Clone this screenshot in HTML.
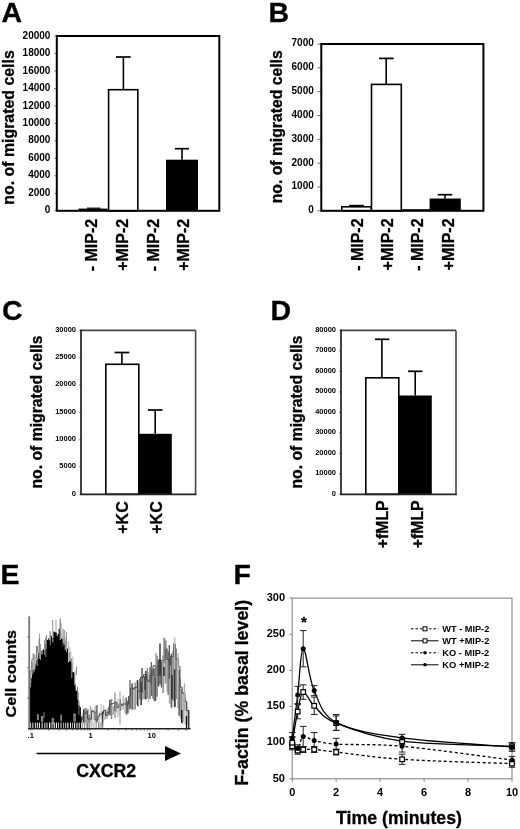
<!DOCTYPE html>
<html><head><meta charset="utf-8"><style>
html,body{margin:0;padding:0;background:#fff;}
body{width:520px;height:829px;overflow:hidden;}
svg{display:block;filter:grayscale(100%) blur(0.3px);}
text{font-family:"Liberation Sans",sans-serif;}
</style></head><body>
<svg width="520" height="829" viewBox="0 0 520 829">
<rect width="520" height="829" fill="#fff"/>
<text x="1.5" y="22" font-size="28.5" font-weight="bold" text-anchor="start" fill="#000"  stroke="#000" stroke-width="0.3">A</text>
<line x1="54.3" y1="36.0" x2="56.8" y2="36.0" stroke="#777" stroke-width="1.0" />
<text x="50.4" y="38.6" font-size="10" font-weight="bold" text-anchor="end" fill="#000" >20000</text>
<line x1="54.3" y1="53.480000000000004" x2="56.8" y2="53.480000000000004" stroke="#777" stroke-width="1.0" />
<text x="50.4" y="56.080000000000005" font-size="10" font-weight="bold" text-anchor="end" fill="#000" >18000</text>
<line x1="54.3" y1="70.96000000000001" x2="56.8" y2="70.96000000000001" stroke="#777" stroke-width="1.0" />
<text x="50.4" y="73.56" font-size="10" font-weight="bold" text-anchor="end" fill="#000" >16000</text>
<line x1="54.3" y1="88.44" x2="56.8" y2="88.44" stroke="#777" stroke-width="1.0" />
<text x="50.4" y="91.03999999999999" font-size="10" font-weight="bold" text-anchor="end" fill="#000" >14000</text>
<line x1="54.3" y1="105.92" x2="56.8" y2="105.92" stroke="#777" stroke-width="1.0" />
<text x="50.4" y="108.52" font-size="10" font-weight="bold" text-anchor="end" fill="#000" >12000</text>
<line x1="54.3" y1="123.4" x2="56.8" y2="123.4" stroke="#777" stroke-width="1.0" />
<text x="50.4" y="126.0" font-size="10" font-weight="bold" text-anchor="end" fill="#000" >10000</text>
<line x1="54.3" y1="140.88" x2="56.8" y2="140.88" stroke="#777" stroke-width="1.0" />
<text x="50.4" y="143.48" font-size="10" font-weight="bold" text-anchor="end" fill="#000" >8000</text>
<line x1="54.3" y1="158.36" x2="56.8" y2="158.36" stroke="#777" stroke-width="1.0" />
<text x="50.4" y="160.96" font-size="10" font-weight="bold" text-anchor="end" fill="#000" >6000</text>
<line x1="54.3" y1="175.84" x2="56.8" y2="175.84" stroke="#777" stroke-width="1.0" />
<text x="50.4" y="178.44" font-size="10" font-weight="bold" text-anchor="end" fill="#000" >4000</text>
<line x1="54.3" y1="193.32" x2="56.8" y2="193.32" stroke="#777" stroke-width="1.0" />
<text x="50.4" y="195.92" font-size="10" font-weight="bold" text-anchor="end" fill="#000" >2000</text>
<line x1="54.3" y1="210.8" x2="56.8" y2="210.8" stroke="#777" stroke-width="1.0" />
<text x="50.4" y="213.4" font-size="10" font-weight="bold" text-anchor="end" fill="#000" >0</text>
<rect x="78.5" y="208.6" width="29" height="2.3" fill="#000" stroke="none" stroke-width="0"/>
<line x1="87" y1="208.2" x2="100.5" y2="208.2" stroke="#000" stroke-width="1.2" />
<rect x="108.6" y="89.7" width="29.2" height="121.10000000000001" fill="#fff" stroke="#000" stroke-width="1.6"/>
<line x1="123.4" y1="57" x2="123.4" y2="89.7" stroke="#000" stroke-width="1.6" />
<line x1="116" y1="57" x2="130.7" y2="57" stroke="#000" stroke-width="1.7" />
<rect x="166" y="159.7" width="32" height="51.10000000000002" fill="#000" stroke="none" stroke-width="0"/>
<line x1="182" y1="148.7" x2="182" y2="159.7" stroke="#000" stroke-width="1.6" />
<line x1="174.9" y1="148.7" x2="189" y2="148.7" stroke="#000" stroke-width="1.7" />
<rect x="56.8" y="36.0" width="162.5" height="174.8" fill="none" stroke="#000" stroke-width="2"/>
<text transform="translate(14.2,127.5) rotate(-90)" font-size="15.8" font-weight="bold" text-anchor="middle" fill="#000" textLength="154.5" lengthAdjust="spacingAndGlyphs"  stroke="#000" stroke-width="0.3">no. of migrated cells</text>
<text transform="translate(97.10000000000001,218.8) rotate(-90)" font-size="16" font-weight="bold" text-anchor="end" fill="#000"  stroke="#000" stroke-width="0.3">- MIP-2</text>
<text transform="translate(127.8,218.8) rotate(-90)" font-size="16" font-weight="bold" text-anchor="end" fill="#000"  stroke="#000" stroke-width="0.3">+MIP-2</text>
<text transform="translate(158.6,218.8) rotate(-90)" font-size="16" font-weight="bold" text-anchor="end" fill="#000"  stroke="#000" stroke-width="0.3">- MIP-2</text>
<text transform="translate(189.2,218.8) rotate(-90)" font-size="16" font-weight="bold" text-anchor="end" fill="#000"  stroke="#000" stroke-width="0.3">+MIP-2</text>
<text x="268.5" y="22" font-size="28.5" font-weight="bold" text-anchor="start" fill="#000"  stroke="#000" stroke-width="0.3">B</text>
<line x1="317.3" y1="44.0" x2="321.3" y2="44.0" stroke="#777" stroke-width="1.0" />
<text x="313.8" y="46.4" font-size="10" font-weight="bold" text-anchor="end" fill="#000" >7000</text>
<line x1="317.3" y1="67.82857142857142" x2="321.3" y2="67.82857142857142" stroke="#777" stroke-width="1.0" />
<text x="313.8" y="70.22857142857143" font-size="10" font-weight="bold" text-anchor="end" fill="#000" >6000</text>
<line x1="317.3" y1="91.65714285714286" x2="321.3" y2="91.65714285714286" stroke="#777" stroke-width="1.0" />
<text x="313.8" y="94.05714285714286" font-size="10" font-weight="bold" text-anchor="end" fill="#000" >5000</text>
<line x1="317.3" y1="115.4857142857143" x2="321.3" y2="115.4857142857143" stroke="#777" stroke-width="1.0" />
<text x="313.8" y="117.8857142857143" font-size="10" font-weight="bold" text-anchor="end" fill="#000" >4000</text>
<line x1="317.3" y1="139.31428571428572" x2="321.3" y2="139.31428571428572" stroke="#777" stroke-width="1.0" />
<text x="313.8" y="141.71428571428572" font-size="10" font-weight="bold" text-anchor="end" fill="#000" >3000</text>
<line x1="317.3" y1="163.14285714285714" x2="321.3" y2="163.14285714285714" stroke="#777" stroke-width="1.0" />
<text x="313.8" y="165.54285714285714" font-size="10" font-weight="bold" text-anchor="end" fill="#000" >2000</text>
<line x1="317.3" y1="186.9714285714286" x2="321.3" y2="186.9714285714286" stroke="#777" stroke-width="1.0" />
<text x="313.8" y="189.3714285714286" font-size="10" font-weight="bold" text-anchor="end" fill="#000" >1000</text>
<line x1="317.3" y1="210.8" x2="321.3" y2="210.8" stroke="#777" stroke-width="1.0" />
<text x="313.8" y="213.20000000000002" font-size="10" font-weight="bold" text-anchor="end" fill="#000" >0</text>
<rect x="341.8" y="206.8" width="29.5" height="4.0" fill="#fff" stroke="#000" stroke-width="1.6"/>
<line x1="349.1" y1="205.8" x2="363.9" y2="205.8" stroke="#000" stroke-width="2.0" />
<rect x="371.5" y="84.4" width="29.8" height="126.4" fill="#fff" stroke="#000" stroke-width="1.6"/>
<line x1="386.2" y1="58.4" x2="386.2" y2="84.4" stroke="#000" stroke-width="1.6" />
<line x1="379" y1="58.4" x2="393.7" y2="58.4" stroke="#000" stroke-width="1.7" />
<rect x="401.5" y="209.2" width="28.5" height="1.8" fill="#000" stroke="none" stroke-width="0"/>
<rect x="429.6" y="198.5" width="31.2" height="12.300000000000011" fill="#000" stroke="none" stroke-width="0"/>
<line x1="445" y1="194.7" x2="445" y2="198.5" stroke="#000" stroke-width="1.6" />
<line x1="437.7" y1="194.7" x2="452.2" y2="194.7" stroke="#000" stroke-width="1.7" />
<rect x="321.3" y="44.0" width="162.09999999999997" height="166.8" fill="none" stroke="#000" stroke-width="2"/>
<text transform="translate(281.5,126.8) rotate(-90)" font-size="15.8" font-weight="bold" text-anchor="middle" fill="#000" textLength="153" lengthAdjust="spacingAndGlyphs"  stroke="#000" stroke-width="0.3">no. of migrated cells</text>
<text transform="translate(363.0,218.4) rotate(-90)" font-size="16" font-weight="bold" text-anchor="end" fill="#000"  stroke="#000" stroke-width="0.3">- MIP-2</text>
<text transform="translate(393.4,218.4) rotate(-90)" font-size="16" font-weight="bold" text-anchor="end" fill="#000"  stroke="#000" stroke-width="0.3">+MIP-2</text>
<text transform="translate(423.0,218.4) rotate(-90)" font-size="16" font-weight="bold" text-anchor="end" fill="#000"  stroke="#000" stroke-width="0.3">- MIP-2</text>
<text transform="translate(453.5,218.4) rotate(-90)" font-size="16" font-weight="bold" text-anchor="end" fill="#000"  stroke="#000" stroke-width="0.3">+MIP-2</text>
<text x="2.0" y="320" font-size="28.5" font-weight="bold" text-anchor="start" fill="#000"  stroke="#000" stroke-width="0.3">C</text>
<line x1="79.5" y1="330.4" x2="81.0" y2="330.4" stroke="#333" stroke-width="1.0" />
<text x="76.0" y="331.79999999999995" font-size="7.5" font-weight="bold" text-anchor="end" fill="#000" >30000</text>
<line x1="79.5" y1="357.71666666666664" x2="81.0" y2="357.71666666666664" stroke="#333" stroke-width="1.0" />
<text x="76.0" y="359.1166666666666" font-size="7.5" font-weight="bold" text-anchor="end" fill="#000" >25000</text>
<line x1="79.5" y1="385.0333333333333" x2="81.0" y2="385.0333333333333" stroke="#333" stroke-width="1.0" />
<text x="76.0" y="386.4333333333333" font-size="7.5" font-weight="bold" text-anchor="end" fill="#000" >20000</text>
<line x1="79.5" y1="412.35" x2="81.0" y2="412.35" stroke="#333" stroke-width="1.0" />
<text x="76.0" y="413.75" font-size="7.5" font-weight="bold" text-anchor="end" fill="#000" >15000</text>
<line x1="79.5" y1="439.6666666666667" x2="81.0" y2="439.6666666666667" stroke="#333" stroke-width="1.0" />
<text x="76.0" y="441.06666666666666" font-size="7.5" font-weight="bold" text-anchor="end" fill="#000" >10000</text>
<line x1="79.5" y1="466.98333333333335" x2="81.0" y2="466.98333333333335" stroke="#333" stroke-width="1.0" />
<text x="76.0" y="468.3833333333333" font-size="7.5" font-weight="bold" text-anchor="end" fill="#000" >5000</text>
<line x1="79.5" y1="494.3" x2="81.0" y2="494.3" stroke="#333" stroke-width="1.0" />
<text x="76.0" y="495.7" font-size="7.5" font-weight="bold" text-anchor="end" fill="#000" >0</text>
<rect x="105.8" y="364.3" width="33" height="130.0" fill="#fff" stroke="#000" stroke-width="1.6"/>
<line x1="121.9" y1="352.5" x2="121.9" y2="364.3" stroke="#000" stroke-width="1.6" />
<line x1="114.5" y1="352.5" x2="129.3" y2="352.5" stroke="#000" stroke-width="1.7" />
<rect x="138.8" y="433.8" width="33" height="60.5" fill="#000" stroke="none" stroke-width="0"/>
<line x1="155.2" y1="410" x2="155.2" y2="433.8" stroke="#000" stroke-width="1.6" />
<line x1="148" y1="410" x2="162.5" y2="410" stroke="#000" stroke-width="1.7" />
<line x1="81.0" y1="330.4" x2="195.6" y2="330.4" stroke="#444" stroke-width="1.6" />
<line x1="195.6" y1="330.4" x2="195.6" y2="494.3" stroke="#444" stroke-width="1.6" />
<line x1="81.0" y1="329.59999999999997" x2="81.0" y2="495.1" stroke="#222" stroke-width="1.7" />
<line x1="80.2" y1="494.3" x2="196.4" y2="494.3" stroke="#222" stroke-width="1.7" />
<text transform="translate(42.3,412) rotate(-90)" font-size="15.8" font-weight="bold" text-anchor="middle" fill="#000" textLength="153" lengthAdjust="spacingAndGlyphs"  stroke="#000" stroke-width="0.3">no. of migrated cells</text>
<text transform="translate(127.8,501.3) rotate(-90)" font-size="16" font-weight="bold" text-anchor="end" fill="#000"  stroke="#000" stroke-width="0.3">+KC</text>
<text transform="translate(162.4,501.3) rotate(-90)" font-size="16" font-weight="bold" text-anchor="end" fill="#000"  stroke="#000" stroke-width="0.3">+KC</text>
<text x="270.5" y="320" font-size="28.5" font-weight="bold" text-anchor="start" fill="#000"  stroke="#000" stroke-width="0.3">D</text>
<line x1="339.5" y1="330.4" x2="341.0" y2="330.4" stroke="#333" stroke-width="1.0" />
<text x="336.0" y="331.79999999999995" font-size="7.5" font-weight="bold" text-anchor="end" fill="#000" >80000</text>
<line x1="339.5" y1="350.8875" x2="341.0" y2="350.8875" stroke="#333" stroke-width="1.0" />
<text x="336.0" y="352.28749999999997" font-size="7.5" font-weight="bold" text-anchor="end" fill="#000" >70000</text>
<line x1="339.5" y1="371.375" x2="341.0" y2="371.375" stroke="#333" stroke-width="1.0" />
<text x="336.0" y="372.775" font-size="7.5" font-weight="bold" text-anchor="end" fill="#000" >60000</text>
<line x1="339.5" y1="391.8625" x2="341.0" y2="391.8625" stroke="#333" stroke-width="1.0" />
<text x="336.0" y="393.2625" font-size="7.5" font-weight="bold" text-anchor="end" fill="#000" >50000</text>
<line x1="339.5" y1="412.35" x2="341.0" y2="412.35" stroke="#333" stroke-width="1.0" />
<text x="336.0" y="413.75" font-size="7.5" font-weight="bold" text-anchor="end" fill="#000" >40000</text>
<line x1="339.5" y1="432.8375" x2="341.0" y2="432.8375" stroke="#333" stroke-width="1.0" />
<text x="336.0" y="434.23749999999995" font-size="7.5" font-weight="bold" text-anchor="end" fill="#000" >30000</text>
<line x1="339.5" y1="453.325" x2="341.0" y2="453.325" stroke="#333" stroke-width="1.0" />
<text x="336.0" y="454.72499999999997" font-size="7.5" font-weight="bold" text-anchor="end" fill="#000" >20000</text>
<line x1="339.5" y1="473.8125" x2="341.0" y2="473.8125" stroke="#333" stroke-width="1.0" />
<text x="336.0" y="475.2125" font-size="7.5" font-weight="bold" text-anchor="end" fill="#000" >10000</text>
<line x1="339.5" y1="494.3" x2="341.0" y2="494.3" stroke="#333" stroke-width="1.0" />
<text x="336.0" y="495.7" font-size="7.5" font-weight="bold" text-anchor="end" fill="#000" >0</text>
<rect x="365.8" y="377.8" width="33" height="116.5" fill="#fff" stroke="#000" stroke-width="1.6"/>
<line x1="381.9" y1="339.3" x2="381.9" y2="377.8" stroke="#000" stroke-width="1.6" />
<line x1="375" y1="339.3" x2="389.3" y2="339.3" stroke="#000" stroke-width="1.7" />
<rect x="398.8" y="395.5" width="33" height="98.80000000000001" fill="#000" stroke="none" stroke-width="0"/>
<line x1="415.2" y1="371.3" x2="415.2" y2="395.5" stroke="#000" stroke-width="1.6" />
<line x1="408" y1="371.3" x2="422.5" y2="371.3" stroke="#000" stroke-width="1.7" />
<line x1="341.0" y1="330.4" x2="456.0" y2="330.4" stroke="#444" stroke-width="1.6" />
<line x1="456.0" y1="330.4" x2="456.0" y2="494.3" stroke="#444" stroke-width="1.6" />
<line x1="341.0" y1="329.59999999999997" x2="341.0" y2="495.1" stroke="#222" stroke-width="1.7" />
<line x1="340.2" y1="494.3" x2="456.8" y2="494.3" stroke="#222" stroke-width="1.7" />
<text transform="translate(301.8,412) rotate(-90)" font-size="15.8" font-weight="bold" text-anchor="middle" fill="#000" textLength="153" lengthAdjust="spacingAndGlyphs"  stroke="#000" stroke-width="0.3">no. of migrated cells</text>
<text transform="translate(387.8,500.4) rotate(-90)" font-size="15.8" font-weight="bold" text-anchor="end" fill="#000"  stroke="#000" stroke-width="0.3">+fMLP</text>
<text transform="translate(423.0,500.4) rotate(-90)" font-size="15.8" font-weight="bold" text-anchor="end" fill="#000"  stroke="#000" stroke-width="0.3">+fMLP</text>
<text x="0.5" y="583.6" font-size="28.5" font-weight="bold" text-anchor="start" fill="#000"  stroke="#000" stroke-width="0.3">E</text>
<text transform="translate(16.3,673.7) rotate(-90)" font-size="14.8" font-weight="bold" text-anchor="middle" fill="#000" textLength="87.5" lengthAdjust="spacingAndGlyphs"  stroke="#000" stroke-width="0.3">Cell counts</text>
<rect x="80.5" y="716.38" width="1.5" height="12.42" fill="#333" stroke="none" stroke-width="0"/>
<rect x="82.0" y="716.36" width="1.0" height="8.63" fill="#bbb" stroke="none" stroke-width="0"/>
<rect x="83.0" y="709.22" width="1.2" height="15.5" fill="#333" stroke="none" stroke-width="0"/>
<rect x="84.2" y="708.56" width="1.0" height="16.18" fill="#666" stroke="none" stroke-width="0"/>
<rect x="85.2" y="707.73" width="1.2" height="18.42" fill="#888" stroke="none" stroke-width="0"/>
<rect x="86.4" y="708.6" width="1.0" height="20.2" fill="#888" stroke="none" stroke-width="0"/>
<rect x="87.4" y="709.12" width="1.2" height="17.42" fill="#777" stroke="none" stroke-width="0"/>
<rect x="88.6" y="714.75" width="1.2" height="14.05" fill="#666" stroke="none" stroke-width="0"/>
<rect x="89.8" y="706.23" width="1.5" height="22.57" fill="#aaa" stroke="none" stroke-width="0"/>
<rect x="91.3" y="708.73" width="1.0" height="17.31" fill="#ccc" stroke="none" stroke-width="0"/>
<rect x="92.3" y="708.33" width="1.0" height="16.4" fill="#ccc" stroke="none" stroke-width="0"/>
<rect x="93.3" y="709.67" width="1.2" height="10.57" fill="#bbb" stroke="none" stroke-width="0"/>
<rect x="94.5" y="705.77" width="1.5" height="17.27" fill="#bbb" stroke="none" stroke-width="0"/>
<rect x="96.0" y="705.22" width="1.8" height="23.33" fill="#777" stroke="none" stroke-width="0"/>
<rect x="97.8" y="711.24" width="1.0" height="16.73" fill="#ccc" stroke="none" stroke-width="0"/>
<rect x="98.8" y="712.27" width="1.5" height="10.65" fill="#ccc" stroke="none" stroke-width="0"/>
<rect x="100.3" y="704.21" width="1.5" height="14.52" fill="#ccc" stroke="none" stroke-width="0"/>
<rect x="101.8" y="711.54" width="1.5" height="14.62" fill="#333" stroke="none" stroke-width="0"/>
<rect x="103.3" y="705.49" width="1.0" height="12.3" fill="#999" stroke="none" stroke-width="0"/>
<rect x="104.3" y="708.77" width="1.2" height="11.49" fill="#bbb" stroke="none" stroke-width="0"/>
<rect x="105.5" y="710.48" width="1.0" height="8.43" fill="#777" stroke="none" stroke-width="0"/>
<rect x="106.5" y="708.24" width="1.5" height="10.53" fill="#bbb" stroke="none" stroke-width="0"/>
<rect x="108.0" y="706.81" width="1.0" height="9.36" fill="#888" stroke="none" stroke-width="0"/>
<rect x="109.0" y="699.76" width="1.8" height="15.53" fill="#666" stroke="none" stroke-width="0"/>
<rect x="110.8" y="699.03" width="1.5" height="19.95" fill="#888" stroke="none" stroke-width="0"/>
<rect x="112.3" y="705.95" width="1.8" height="8.66" fill="#aaa" stroke="none" stroke-width="0"/>
<rect x="114.1" y="701.0" width="1.5" height="9.93" fill="#333" stroke="none" stroke-width="0"/>
<rect x="115.6" y="702.08" width="1.2" height="10.18" fill="#999" stroke="none" stroke-width="0"/>
<rect x="116.8" y="698.77" width="1.8" height="18.54" fill="#ccc" stroke="none" stroke-width="0"/>
<rect x="118.6" y="703.21" width="1.0" height="12.01" fill="#bbb" stroke="none" stroke-width="0"/>
<rect x="119.6" y="699.31" width="1.5" height="11.58" fill="#555" stroke="none" stroke-width="0"/>
<rect x="121.1" y="702.93" width="1.5" height="7.46" fill="#ccc" stroke="none" stroke-width="0"/>
<rect x="122.6" y="695.49" width="1.2" height="13.72" fill="#aaa" stroke="none" stroke-width="0"/>
<rect x="123.8" y="698.6" width="1.8" height="14.24" fill="#ccc" stroke="none" stroke-width="0"/>
<rect x="125.6" y="697.46" width="1.5" height="17.23" fill="#666" stroke="none" stroke-width="0"/>
<rect x="127.1" y="700.8" width="1.5" height="12.74" fill="#555" stroke="none" stroke-width="0"/>
<rect x="128.6" y="696.91" width="1.5" height="12.8" fill="#888" stroke="none" stroke-width="0"/>
<rect x="130.1" y="689.51" width="1.2" height="19.24" fill="#999" stroke="none" stroke-width="0"/>
<rect x="131.3" y="683.29" width="1.8" height="26.26" fill="#666" stroke="none" stroke-width="0"/>
<rect x="133.1" y="686.99" width="1.5" height="22.76" fill="#bbb" stroke="none" stroke-width="0"/>
<rect x="134.6" y="682.52" width="1.2" height="27.06" fill="#777" stroke="none" stroke-width="0"/>
<rect x="135.8" y="680.52" width="1.2" height="24.02" fill="#bbb" stroke="none" stroke-width="0"/>
<rect x="137.0" y="680.0" width="1.2" height="26.03" fill="#333" stroke="none" stroke-width="0"/>
<rect x="138.2" y="681.54" width="1.0" height="25.21" fill="#999" stroke="none" stroke-width="0"/>
<rect x="139.2" y="678.94" width="1.2" height="20.29" fill="#666" stroke="none" stroke-width="0"/>
<rect x="140.4" y="682.1" width="1.5" height="22.93" fill="#333" stroke="none" stroke-width="0"/>
<rect x="141.9" y="677.08" width="1.5" height="22.72" fill="#aaa" stroke="none" stroke-width="0"/>
<rect x="143.4" y="676.21" width="1.5" height="22.75" fill="#888" stroke="none" stroke-width="0"/>
<rect x="144.9" y="670.96" width="1.8" height="28.52" fill="#555" stroke="none" stroke-width="0"/>
<rect x="146.7" y="668.24" width="1.2" height="30.02" fill="#777" stroke="none" stroke-width="0"/>
<rect x="147.9" y="672.0" width="1.2" height="30.06" fill="#bbb" stroke="none" stroke-width="0"/>
<rect x="149.1" y="667.2" width="1.8" height="31.73" fill="#888" stroke="none" stroke-width="0"/>
<rect x="150.9" y="670.95" width="1.5" height="25.04" fill="#666" stroke="none" stroke-width="0"/>
<rect x="152.4" y="668.52" width="1.2" height="30.34" fill="#666" stroke="none" stroke-width="0"/>
<rect x="153.6" y="668.48" width="1.2" height="32.75" fill="#555" stroke="none" stroke-width="0"/>
<rect x="154.8" y="665.9" width="1.5" height="35.0" fill="#555" stroke="none" stroke-width="0"/>
<rect x="156.3" y="655.69" width="1.5" height="41.02" fill="#777" stroke="none" stroke-width="0"/>
<rect x="157.8" y="659.56" width="1.5" height="26.96" fill="#555" stroke="none" stroke-width="0"/>
<rect x="159.3" y="658.92" width="1.5" height="25.4" fill="#555" stroke="none" stroke-width="0"/>
<rect x="160.8" y="661.7" width="1.5" height="25.9" fill="#555" stroke="none" stroke-width="0"/>
<rect x="162.3" y="655.26" width="1.8" height="37.78" fill="#999" stroke="none" stroke-width="0"/>
<rect x="164.1" y="649.04" width="1.0" height="35.89" fill="#ccc" stroke="none" stroke-width="0"/>
<rect x="165.1" y="640.43" width="1.5" height="42.95" fill="#888" stroke="none" stroke-width="0"/>
<rect x="166.6" y="647.63" width="1.0" height="44.3" fill="#999" stroke="none" stroke-width="0"/>
<rect x="167.6" y="651.33" width="1.2" height="43.68" fill="#555" stroke="none" stroke-width="0"/>
<rect x="168.8" y="657.88" width="1.8" height="45.91" fill="#aaa" stroke="none" stroke-width="0"/>
<rect x="170.6" y="653.59" width="1.8" height="54.16" fill="#666" stroke="none" stroke-width="0"/>
<rect x="172.4" y="651.04" width="1.5" height="49.94" fill="#888" stroke="none" stroke-width="0"/>
<rect x="173.9" y="644.71" width="1.8" height="62.39" fill="#333" stroke="none" stroke-width="0"/>
<rect x="175.7" y="648.63" width="1.2" height="50.49" fill="#777" stroke="none" stroke-width="0"/>
<rect x="176.9" y="656.98" width="1.5" height="51.09" fill="#bbb" stroke="none" stroke-width="0"/>
<rect x="178.4" y="669.57" width="1.5" height="46.15" fill="#555" stroke="none" stroke-width="0"/>
<rect x="179.9" y="678.18" width="1.0" height="40.2" fill="#999" stroke="none" stroke-width="0"/>
<rect x="180.9" y="689.2" width="1.2" height="31.75" fill="#888" stroke="none" stroke-width="0"/>
<rect x="182.1" y="686.98" width="1.2" height="37.35" fill="#bbb" stroke="none" stroke-width="0"/>
<rect x="183.3" y="692.19" width="1.0" height="29.91" fill="#999" stroke="none" stroke-width="0"/>
<rect x="184.3" y="697.31" width="1.8" height="27.22" fill="#ccc" stroke="none" stroke-width="0"/>
<rect x="186.1" y="702.21" width="1.8" height="23.01" fill="#bbb" stroke="none" stroke-width="0"/>
<rect x="187.9" y="710.08" width="1.2" height="18.72" fill="#333" stroke="none" stroke-width="0"/>
<path d="M81,728.8V719.1H83.0V713.6H86.0V711.4H87.5V718.9H90.0V719.1H91.5V710.9H93.0V711.9H95.0V720.0H98.0V716.3H99.5V714.2H101.0V713.9H103.5V710.5H105.5V715.5H107.0V712.2H109.5V704.0H112.5V703.6H114.5V702.6H117.0V707.6H119.0V704.1H121.5V705.4H123.0V703.9H125.5V704.3H128.5V696.3H130.5V688.2H133.0V689.0H134.5V687.3H137.5V691.1H140.5V677.2H143.5V674.6H146.5V679.8H148.0V681.5H150.0V675.2H153.0V665.7H156.0V675.5H158.0V661.4H161.0V660.6H163.5V659.7H165.5V649.2H167.0V659.5H169.0V665.2H170.5V656.5H173.5V644.0H175.5V658.9H178.5V666.6H180.0V687.0H182.0V693.2H185.0V701.3H186.5V710.7H189.0V721.4V728.8" fill="none" stroke="#444" stroke-width="0.9"/>
<line x1="115" y1="692.5" x2="115" y2="717.9828386524697" stroke="#888" stroke-width="1.2" />
<line x1="120" y1="691.5" x2="120" y2="724.8036512036524" stroke="#aaa" stroke-width="1.2" />
<line x1="130" y1="680" x2="130" y2="708.5986036617348" stroke="#555" stroke-width="1.2" />
<line x1="142" y1="668" x2="142" y2="692.647087478332" stroke="#333" stroke-width="1.2" />
<line x1="151.3" y1="662" x2="151.3" y2="684.7582336263366" stroke="#555" stroke-width="1.2" />
<line x1="156" y1="653" x2="156" y2="677.8275875378421" stroke="#999" stroke-width="1.3" />
<line x1="160" y1="643.6" x2="160" y2="675.5912951663654" stroke="#222" stroke-width="1.3" />
<line x1="164.3" y1="637.6" x2="164.3" y2="663.0013067052063" stroke="#888" stroke-width="2.0" />
<line x1="169.3" y1="645" x2="169.3" y2="678.7012357235355" stroke="#555" stroke-width="1.3" />
<line x1="174.6" y1="637.6" x2="174.6" y2="669.2963459164877" stroke="#bbb" stroke-width="1.6" />
<line x1="177.9" y1="653" x2="177.9" y2="685.3620315824045" stroke="#bbb" stroke-width="1.4" />
<line x1="184.5" y1="683.4" x2="184.5" y2="710.8400587144571" stroke="#aaa" stroke-width="1.3" />
<line x1="181.8" y1="710" x2="181.8" y2="723" stroke="#111" stroke-width="1.4" />
<line x1="186.5" y1="716" x2="186.5" y2="728.6" stroke="#111" stroke-width="1.3" />
<line x1="172" y1="675" x2="172" y2="699" stroke="#222" stroke-width="1.4" />
<line x1="164" y1="667" x2="164" y2="676" stroke="#111" stroke-width="1.3" />
<line x1="145" y1="676" x2="145" y2="690" stroke="#333" stroke-width="1.2" />
<path d="M29.8,728.8V675.6H30.6V678.0H31.9V670.5H33.2V669.5H34.0V669.4H35.3V663.8H36.1V660.1H37.1V658.5H38.1V652.8H39.4V649.7H40.7V650.6H41.5V654.2H42.5V650.0H43.3V649.3H44.1V650.2H45.4V644.1H46.2V639.8H47.5V640.1H48.3V638.2H49.6V640.1H50.6V635.8H51.9V638.0H53.2V631.6H54.5V632.2H55.5V632.4H56.8V636.0H57.6V634.1H58.6V628.8H59.4V629.1H60.2V631.2H61.2V638.5H62.2V639.0H63.2V635.5H64.2V640.7H65.5V649.8H66.5V648.7H67.3V648.6H68.6V652.2H69.6V661.6H70.6V658.9H71.6V662.8H72.4V672.0H73.7V672.8H74.7V684.3H75.7V690.5H76.7V691.0H77.5V699.2H78.8V704.9H79.6V707.2H80.9V723.8H81.9V728.8V728.8Z" fill="#000"/>
<line x1="66.6" y1="643.2" x2="66.6" y2="649.6" stroke="#999" stroke-width="1.0" />
<line x1="63.0" y1="628.8" x2="63.0" y2="646.1" stroke="#777" stroke-width="1.0" />
<line x1="39.6" y1="633.5" x2="39.6" y2="647.0" stroke="#999" stroke-width="1.0" />
<line x1="39.2" y1="638.5" x2="39.2" y2="656.1" stroke="#777" stroke-width="1.0" />
<line x1="30.8" y1="670.3" x2="30.8" y2="682.8" stroke="#888" stroke-width="1.0" />
<line x1="32.1" y1="658.3" x2="32.1" y2="673.4" stroke="#888" stroke-width="1.0" />
<line x1="66.0" y1="640.5" x2="66.0" y2="648.0" stroke="#aaa" stroke-width="1.0" />
<line x1="33.2" y1="653.4" x2="33.2" y2="660.4" stroke="#777" stroke-width="1.0" />
<line x1="71.8" y1="658.0" x2="71.8" y2="678.0" stroke="#999" stroke-width="1.0" />
<line x1="39.4" y1="644.4" x2="39.4" y2="658.9" stroke="#888" stroke-width="1.0" />
<line x1="76.4" y1="666.5" x2="76.4" y2="675.1" stroke="#888" stroke-width="1.0" />
<line x1="72.9" y1="656.4" x2="72.9" y2="670.2" stroke="#bbb" stroke-width="1.0" />
<line x1="68.5" y1="645.3" x2="68.5" y2="651.5" stroke="#777" stroke-width="1.0" />
<line x1="64.6" y1="630.0" x2="64.6" y2="644.9" stroke="#999" stroke-width="1.0" />
<line x1="45.9" y1="638.0" x2="45.9" y2="657.1" stroke="#777" stroke-width="1.0" />
<line x1="37.1" y1="648.9" x2="37.1" y2="666.0" stroke="#aaa" stroke-width="1.0" />
<line x1="78.4" y1="691.8" x2="78.4" y2="705.6" stroke="#999" stroke-width="1.0" />
<line x1="32.9" y1="662.4" x2="32.9" y2="674.4" stroke="#888" stroke-width="1.0" />
<line x1="34.1" y1="653.8" x2="34.1" y2="672.1" stroke="#888" stroke-width="1.0" />
<line x1="74.9" y1="670.6" x2="74.9" y2="685.8" stroke="#aaa" stroke-width="1.0" />
<line x1="37.6" y1="646.1" x2="37.6" y2="652.4" stroke="#888" stroke-width="1.0" />
<line x1="65.2" y1="637.9" x2="65.2" y2="650.1" stroke="#999" stroke-width="1.0" />
<line x1="46.4" y1="635.2" x2="46.4" y2="649.1" stroke="#777" stroke-width="1.0" />
<line x1="44.6" y1="640.1" x2="44.6" y2="655.0" stroke="#888" stroke-width="1.0" />
<line x1="36.5" y1="645.9" x2="36.5" y2="658.8" stroke="#777" stroke-width="1.0" />
<line x1="77.5" y1="686.8" x2="77.5" y2="699.7" stroke="#777" stroke-width="1.0" />
<line x1="40.5" y1="644.0" x2="40.5" y2="659.9" stroke="#999" stroke-width="1.0" />
<line x1="66.5" y1="643.5" x2="66.5" y2="652.2" stroke="#999" stroke-width="1.0" />
<line x1="52.6" y1="620.2" x2="52.6" y2="628.1" stroke="#777" stroke-width="1.0" />
<line x1="52.6" y1="627.3" x2="52.6" y2="636.1" stroke="#888" stroke-width="1.0" />
<line x1="68.5" y1="641.1" x2="68.5" y2="662.6" stroke="#bbb" stroke-width="1.0" />
<line x1="30.6" y1="670.3" x2="30.6" y2="687.3" stroke="#999" stroke-width="1.0" />
<line x1="78.9" y1="701.1" x2="78.9" y2="714.9" stroke="#777" stroke-width="1.0" />
<line x1="49.9" y1="631.1" x2="49.9" y2="640.3" stroke="#bbb" stroke-width="1.0" />
<line x1="56.0" y1="619.8" x2="56.0" y2="631.7" stroke="#999" stroke-width="1.0" />
<line x1="70.8" y1="651.8" x2="70.8" y2="658.8" stroke="#aaa" stroke-width="1.0" />
<line x1="50.3" y1="631.3" x2="50.3" y2="645.1" stroke="#888" stroke-width="1.0" />
<line x1="35.1" y1="654.9" x2="35.1" y2="665.4" stroke="#999" stroke-width="1.0" />
<line x1="69.9" y1="647.2" x2="69.9" y2="660.7" stroke="#bbb" stroke-width="1.0" />
<line x1="61.3" y1="622.9" x2="61.3" y2="629.0" stroke="#bbb" stroke-width="1.0" />
<line x1="60.5" y1="623.4" x2="60.5" y2="629.7" stroke="#888" stroke-width="1.0" />
<line x1="60.7" y1="624.6" x2="60.7" y2="639.4" stroke="#aaa" stroke-width="1.0" />
<line x1="52.8" y1="621.5" x2="52.8" y2="642.4" stroke="#bbb" stroke-width="1.0" />
<line x1="63.7" y1="631.3" x2="63.7" y2="643.1" stroke="#bbb" stroke-width="1.0" />
<line x1="31.5" y1="661.0" x2="31.5" y2="671.6" stroke="#888" stroke-width="1.0" />
<line x1="60.2" y1="618.5" x2="60.2" y2="640" stroke="#888" stroke-width="1.3" />
<line x1="66.5" y1="632" x2="66.5" y2="650" stroke="#999" stroke-width="1.1" />
<rect x="36.9" y="714.1" width="1.9" height="6" fill="#888" stroke="none" stroke-width="0"/>
<rect x="51.6" y="717.8" width="1.0" height="6" fill="#888" stroke="none" stroke-width="0"/>
<rect x="43.5" y="712.2" width="1.1" height="6" fill="#777" stroke="none" stroke-width="0"/>
<rect x="73.4" y="716.1" width="2.3" height="6" fill="#888" stroke="none" stroke-width="0"/>
<rect x="60.3" y="715.4" width="1.7" height="6" fill="#666" stroke="none" stroke-width="0"/>
<rect x="73.3" y="713.4" width="2.5" height="6" fill="#888" stroke="none" stroke-width="0"/>
<rect x="52.1" y="717.8" width="2.0" height="6" fill="#777" stroke="none" stroke-width="0"/>
<rect x="41.0" y="715.9" width="2.3" height="6" fill="#888" stroke="none" stroke-width="0"/>
<rect x="60.6" y="714.3" width="1.2" height="6" fill="#888" stroke="none" stroke-width="0"/>
<rect x="73.0" y="716.1" width="2.5" height="6" fill="#666" stroke="none" stroke-width="0"/>
<rect x="30.2" y="722.6" width="0.9" height="5.6" fill="#eee" stroke="none" stroke-width="0"/>
<rect x="32.3" y="722.6" width="1.1" height="5.6" fill="#ddd" stroke="none" stroke-width="0"/>
<rect x="34.9" y="722.6" width="0.9" height="5.6" fill="#eee" stroke="none" stroke-width="0"/>
<rect x="36.8" y="722.6" width="1.3" height="5.6" fill="#ccc" stroke="none" stroke-width="0"/>
<rect x="39.1" y="722.6" width="0.9" height="5.6" fill="#fff" stroke="none" stroke-width="0"/>
<rect x="41.5" y="722.6" width="1.3" height="5.6" fill="#bbb" stroke="none" stroke-width="0"/>
<rect x="44.3" y="722.6" width="1.1" height="5.6" fill="#ccc" stroke="none" stroke-width="0"/>
<rect x="46.4" y="722.6" width="1.1" height="5.6" fill="#ccc" stroke="none" stroke-width="0"/>
<rect x="49.0" y="722.6" width="1.3" height="5.6" fill="#eee" stroke="none" stroke-width="0"/>
<rect x="51.5" y="722.6" width="1.1" height="5.6" fill="#ddd" stroke="none" stroke-width="0"/>
<rect x="53.6" y="722.6" width="1.3" height="5.6" fill="#ddd" stroke="none" stroke-width="0"/>
<rect x="55.9" y="722.6" width="1.1" height="5.6" fill="#fff" stroke="none" stroke-width="0"/>
<rect x="58.0" y="722.6" width="0.9" height="5.6" fill="#ddd" stroke="none" stroke-width="0"/>
<rect x="60.4" y="722.6" width="1.3" height="5.6" fill="#bbb" stroke="none" stroke-width="0"/>
<rect x="63.2" y="722.6" width="0.9" height="5.6" fill="#ccc" stroke="none" stroke-width="0"/>
<rect x="65.1" y="722.6" width="1.1" height="5.6" fill="#bbb" stroke="none" stroke-width="0"/>
<rect x="67.2" y="722.6" width="1.3" height="5.6" fill="#ddd" stroke="none" stroke-width="0"/>
<rect x="70.0" y="722.6" width="0.9" height="5.6" fill="#fff" stroke="none" stroke-width="0"/>
<rect x="72.1" y="722.6" width="0.9" height="5.6" fill="#bbb" stroke="none" stroke-width="0"/>
<rect x="74.0" y="722.6" width="1.1" height="5.6" fill="#eee" stroke="none" stroke-width="0"/>
<rect x="76.3" y="722.6" width="1.3" height="5.6" fill="#ccc" stroke="none" stroke-width="0"/>
<rect x="78.6" y="722.6" width="1.3" height="5.6" fill="#bbb" stroke="none" stroke-width="0"/>
<rect x="81.1" y="722.6" width="0.9" height="5.6" fill="#fff" stroke="none" stroke-width="0"/>
<rect x="81.9" y="722.6" width="1.1" height="5.6" fill="#999" stroke="none" stroke-width="0"/>
<rect x="83.0" y="722.6" width="1.3" height="5.6" fill="#eee" stroke="none" stroke-width="0"/>
<rect x="84.2" y="722.6" width="1.1" height="5.6" fill="#888" stroke="none" stroke-width="0"/>
<rect x="85.3" y="722.6" width="1.1" height="5.6" fill="#eee" stroke="none" stroke-width="0"/>
<rect x="86.8" y="722.6" width="1.1" height="5.6" fill="#777" stroke="none" stroke-width="0"/>
<rect x="87.9" y="722.6" width="0.9" height="5.6" fill="#bbb" stroke="none" stroke-width="0"/>
<rect x="89.2" y="722.6" width="1.1" height="5.6" fill="#999" stroke="none" stroke-width="0"/>
<rect x="90.3" y="722.6" width="1.1" height="5.6" fill="#eee" stroke="none" stroke-width="0"/>
<rect x="91.5" y="722.6" width="1.1" height="5.6" fill="#aaa" stroke="none" stroke-width="0"/>
<rect x="92.6" y="722.6" width="0.9" height="5.6" fill="#fff" stroke="none" stroke-width="0"/>
<rect x="93.4" y="722.6" width="1.1" height="5.6" fill="#aaa" stroke="none" stroke-width="0"/>
<rect x="94.5" y="722.6" width="1.1" height="5.6" fill="#ddd" stroke="none" stroke-width="0"/>
<rect x="95.7" y="722.6" width="1.1" height="5.6" fill="#aaa" stroke="none" stroke-width="0"/>
<rect x="96.8" y="722.6" width="1.3" height="5.6" fill="#fff" stroke="none" stroke-width="0"/>
<rect x="98.2" y="722.6" width="1.1" height="5.6" fill="#777" stroke="none" stroke-width="0"/>
<rect x="99.3" y="722.6" width="1.3" height="5.6" fill="#ccc" stroke="none" stroke-width="0"/>
<rect x="100.5" y="722.6" width="1.1" height="5.6" fill="#888" stroke="none" stroke-width="0"/>
<rect x="101.6" y="722.6" width="0.9" height="5.6" fill="#bbb" stroke="none" stroke-width="0"/>
<rect x="102.4" y="722.6" width="1.1" height="5.6" fill="#777" stroke="none" stroke-width="0"/>
<rect x="103.5" y="722.6" width="1.3" height="5.6" fill="#fff" stroke="none" stroke-width="0"/>
<line x1="29.2" y1="616.3" x2="29.2" y2="728.8" stroke="#777" stroke-width="1.8" />
<line x1="28" y1="728.8" x2="190.5" y2="728.8" stroke="#222" stroke-width="1.4" />
<line x1="27.2" y1="637.1" x2="29.2" y2="637.1" stroke="#555" stroke-width="0.8" />
<line x1="27.2" y1="667.7" x2="29.2" y2="667.7" stroke="#555" stroke-width="0.8" />
<line x1="27.2" y1="698.2" x2="29.2" y2="698.2" stroke="#555" stroke-width="0.8" />
<line x1="30.5" y1="728.8" x2="30.5" y2="730.8" stroke="#444" stroke-width="0.6" />
<line x1="48.6" y1="728.8" x2="48.6" y2="730.8" stroke="#444" stroke-width="0.6" />
<line x1="59.1" y1="728.8" x2="59.1" y2="730.8" stroke="#444" stroke-width="0.6" />
<line x1="66.6" y1="728.8" x2="66.6" y2="730.8" stroke="#444" stroke-width="0.6" />
<line x1="72.4" y1="728.8" x2="72.4" y2="730.8" stroke="#444" stroke-width="0.6" />
<line x1="77.2" y1="728.8" x2="77.2" y2="730.8" stroke="#444" stroke-width="0.6" />
<line x1="81.2" y1="728.8" x2="81.2" y2="730.8" stroke="#444" stroke-width="0.6" />
<line x1="84.7" y1="728.8" x2="84.7" y2="730.8" stroke="#444" stroke-width="0.6" />
<line x1="87.8" y1="728.8" x2="87.8" y2="730.8" stroke="#444" stroke-width="0.6" />
<line x1="90.0" y1="728.8" x2="90.0" y2="730.8" stroke="#444" stroke-width="0.6" />
<line x1="108.1" y1="728.8" x2="108.1" y2="730.8" stroke="#444" stroke-width="0.6" />
<line x1="118.6" y1="728.8" x2="118.6" y2="730.8" stroke="#444" stroke-width="0.6" />
<line x1="126.1" y1="728.8" x2="126.1" y2="730.8" stroke="#444" stroke-width="0.6" />
<line x1="131.9" y1="728.8" x2="131.9" y2="730.8" stroke="#444" stroke-width="0.6" />
<line x1="136.7" y1="728.8" x2="136.7" y2="730.8" stroke="#444" stroke-width="0.6" />
<line x1="140.7" y1="728.8" x2="140.7" y2="730.8" stroke="#444" stroke-width="0.6" />
<line x1="144.2" y1="728.8" x2="144.2" y2="730.8" stroke="#444" stroke-width="0.6" />
<line x1="147.3" y1="728.8" x2="147.3" y2="730.8" stroke="#444" stroke-width="0.6" />
<line x1="150.0" y1="728.8" x2="150.0" y2="730.8" stroke="#444" stroke-width="0.6" />
<line x1="168.1" y1="728.8" x2="168.1" y2="730.8" stroke="#444" stroke-width="0.6" />
<line x1="178.6" y1="728.8" x2="178.6" y2="730.8" stroke="#444" stroke-width="0.6" />
<line x1="186.1" y1="728.8" x2="186.1" y2="730.8" stroke="#444" stroke-width="0.6" />
<text x="27.6" y="737.6" font-size="7.5" font-weight="bold" text-anchor="start" fill="#000" font-family="Liberation Serif">.1</text>
<text x="88.6" y="737.6" font-size="7.5" font-weight="bold" text-anchor="start" fill="#000" font-family="Liberation Serif">1</text>
<text x="147.5" y="737.6" font-size="7.5" font-weight="bold" text-anchor="start" fill="#000" font-family="Liberation Serif">10</text>
<line x1="36.6" y1="753.5" x2="166" y2="753.5" stroke="#000" stroke-width="1.6" />
<polygon points="165,746.0 181.0,753.5 165,761.1" fill="#000"/>
<text x="106.2" y="777.3" font-size="18" font-weight="bold" text-anchor="middle" fill="#000" textLength="60" lengthAdjust="spacingAndGlyphs"  stroke="#000" stroke-width="0.3">CXCR2</text>
<text x="233.4" y="583.5" font-size="28.5" font-weight="bold" text-anchor="start" fill="#000"  stroke="#000" stroke-width="0.3">F</text>
<line x1="289.2" y1="598.1" x2="292.2" y2="598.1" stroke="#666" stroke-width="0.8" />
<text x="285.0" y="600.8000000000001" font-size="11" font-weight="bold" text-anchor="end" fill="#000" >300</text>
<line x1="289.2" y1="634.24" x2="292.2" y2="634.24" stroke="#666" stroke-width="0.8" />
<text x="285.0" y="636.94" font-size="11" font-weight="bold" text-anchor="end" fill="#000" >250</text>
<line x1="289.2" y1="670.38" x2="292.2" y2="670.38" stroke="#666" stroke-width="0.8" />
<text x="285.0" y="673.08" font-size="11" font-weight="bold" text-anchor="end" fill="#000" >200</text>
<line x1="289.2" y1="706.52" x2="292.2" y2="706.52" stroke="#666" stroke-width="0.8" />
<text x="285.0" y="709.22" font-size="11" font-weight="bold" text-anchor="end" fill="#000" >150</text>
<line x1="289.2" y1="742.66" x2="292.2" y2="742.66" stroke="#666" stroke-width="0.8" />
<text x="285.0" y="745.36" font-size="11" font-weight="bold" text-anchor="end" fill="#000" >100</text>
<line x1="289.2" y1="778.8" x2="292.2" y2="778.8" stroke="#666" stroke-width="0.8" />
<text x="285.0" y="781.5" font-size="11" font-weight="bold" text-anchor="end" fill="#000" >50</text>
<line x1="292.2" y1="778.8" x2="292.2" y2="781.8" stroke="#666" stroke-width="0.8" />
<text x="292.2" y="795.8" font-size="11" font-weight="bold" text-anchor="middle" fill="#000" >0</text>
<line x1="336.15999999999997" y1="778.8" x2="336.15999999999997" y2="781.8" stroke="#666" stroke-width="0.8" />
<text x="336.15999999999997" y="795.8" font-size="11" font-weight="bold" text-anchor="middle" fill="#000" >2</text>
<line x1="380.12" y1="778.8" x2="380.12" y2="781.8" stroke="#666" stroke-width="0.8" />
<text x="380.12" y="795.8" font-size="11" font-weight="bold" text-anchor="middle" fill="#000" >4</text>
<line x1="424.08000000000004" y1="778.8" x2="424.08000000000004" y2="781.8" stroke="#666" stroke-width="0.8" />
<text x="424.08000000000004" y="795.8" font-size="11" font-weight="bold" text-anchor="middle" fill="#000" >6</text>
<line x1="468.03999999999996" y1="778.8" x2="468.03999999999996" y2="781.8" stroke="#666" stroke-width="0.8" />
<text x="468.03999999999996" y="795.8" font-size="11" font-weight="bold" text-anchor="middle" fill="#000" >8</text>
<line x1="512.0" y1="778.8" x2="512.0" y2="781.8" stroke="#666" stroke-width="0.8" />
<text x="512.0" y="795.8" font-size="11" font-weight="bold" text-anchor="middle" fill="#000" >10</text>
<rect x="292.2" y="598.1" width="219.8" height="180.69999999999993" fill="none" stroke="#888" stroke-width="1.1"/>
<text transform="translate(247.6,692.8) rotate(-90)" font-size="17.5" font-weight="bold" text-anchor="middle" fill="#000" textLength="186" lengthAdjust="spacingAndGlyphs"  stroke="#000" stroke-width="0.3">F-actin (% basal level)</text>
<text x="399" y="823.6" font-size="18" font-weight="bold" text-anchor="middle" fill="#000" textLength="126" lengthAdjust="spacingAndGlyphs"  stroke="#000" stroke-width="0.3">Time (minutes)</text>
<text x="303.8" y="627" font-size="15" font-weight="bold" text-anchor="middle" fill="#000"  stroke="#000" stroke-width="0.3">*</text>
<path d="M292.20,746.27C293.12,747.00 295.86,750.07 297.69,750.61C299.53,751.15 300.44,749.71 303.19,749.53C305.94,749.35 308.69,749.10 314.18,749.53C319.68,749.95 321.51,750.43 336.16,752.06C350.81,753.68 372.79,757.36 402.10,759.28C431.41,761.21 493.68,762.90 512.00,763.62" fill="none" stroke="#000" stroke-width="1.3" stroke-dasharray="3,2.5"/>
<path d="M292.20,741.21C293.12,742.42 295.86,749.23 297.69,748.44C299.53,747.66 300.44,737.84 303.19,736.52C305.94,735.19 308.69,739.23 314.18,740.49C319.68,741.76 321.51,743.14 336.16,744.11C350.81,745.07 372.79,743.62 402.10,746.27C431.41,748.92 493.68,757.72 512.00,760.01" fill="none" stroke="#000" stroke-width="1.3" stroke-dasharray="3,2.5"/>
<path d="M292.20,742.66C293.12,737.48 295.86,720.01 297.69,711.58C299.53,703.15 300.44,693.03 303.19,692.06C305.94,691.10 308.69,700.62 314.18,705.80C319.68,710.98 321.51,717.24 336.16,723.14C350.81,729.05 372.79,737.36 402.10,741.21C431.41,745.07 493.68,745.43 512.00,746.27" fill="none" stroke="#000" stroke-width="1.3"/>
<path d="M292.20,738.32C293.12,731.10 295.86,709.89 297.69,694.96C299.53,680.02 300.44,649.42 303.19,648.70C305.94,647.97 308.69,678.33 314.18,690.62C319.68,702.91 321.51,714.53 336.16,722.42C350.81,730.31 372.79,733.87 402.10,737.96C431.41,742.06 493.68,745.49 512.00,747.00" fill="none" stroke="#000" stroke-width="1.3"/>
<line x1="292.2" y1="742.66" x2="292.2" y2="749.8879999999999" stroke="#222" stroke-width="1.0" />
<line x1="288.9" y1="742.66" x2="295.5" y2="742.66" stroke="#222" stroke-width="1.0" />
<line x1="288.9" y1="749.8879999999999" x2="295.5" y2="749.8879999999999" stroke="#222" stroke-width="1.0" />
<line x1="297.695" y1="746.9967999999999" x2="297.695" y2="754.2248" stroke="#222" stroke-width="1.0" />
<line x1="294.395" y1="746.9967999999999" x2="300.995" y2="746.9967999999999" stroke="#222" stroke-width="1.0" />
<line x1="294.395" y1="754.2248" x2="300.995" y2="754.2248" stroke="#222" stroke-width="1.0" />
<line x1="303.19" y1="746.6353999999999" x2="303.19" y2="752.4177999999999" stroke="#222" stroke-width="1.0" />
<line x1="299.89" y1="746.6353999999999" x2="306.49" y2="746.6353999999999" stroke="#222" stroke-width="1.0" />
<line x1="299.89" y1="752.4177999999999" x2="306.49" y2="752.4177999999999" stroke="#222" stroke-width="1.0" />
<line x1="314.18" y1="746.6353999999999" x2="314.18" y2="752.4177999999999" stroke="#222" stroke-width="1.0" />
<line x1="310.88" y1="746.6353999999999" x2="317.48" y2="746.6353999999999" stroke="#222" stroke-width="1.0" />
<line x1="310.88" y1="752.4177999999999" x2="317.48" y2="752.4177999999999" stroke="#222" stroke-width="1.0" />
<line x1="336.15999999999997" y1="749.1651999999999" x2="336.15999999999997" y2="754.9476" stroke="#222" stroke-width="1.0" />
<line x1="332.85999999999996" y1="749.1651999999999" x2="339.46" y2="749.1651999999999" stroke="#222" stroke-width="1.0" />
<line x1="332.85999999999996" y1="754.9476" x2="339.46" y2="754.9476" stroke="#222" stroke-width="1.0" />
<line x1="402.1" y1="754.2248" x2="402.1" y2="764.3439999999999" stroke="#222" stroke-width="1.0" />
<line x1="398.8" y1="754.2248" x2="405.40000000000003" y2="754.2248" stroke="#222" stroke-width="1.0" />
<line x1="398.8" y1="764.3439999999999" x2="405.40000000000003" y2="764.3439999999999" stroke="#222" stroke-width="1.0" />
<line x1="512.0" y1="760.0072" x2="512.0" y2="767.2352" stroke="#222" stroke-width="1.0" />
<line x1="508.7" y1="760.0072" x2="515.3" y2="760.0072" stroke="#222" stroke-width="1.0" />
<line x1="508.7" y1="767.2352" x2="515.3" y2="767.2352" stroke="#222" stroke-width="1.0" />
<line x1="292.2" y1="736.8776" x2="292.2" y2="745.5512" stroke="#222" stroke-width="1.0" />
<line x1="288.9" y1="736.8776" x2="295.5" y2="736.8776" stroke="#222" stroke-width="1.0" />
<line x1="288.9" y1="745.5512" x2="295.5" y2="745.5512" stroke="#222" stroke-width="1.0" />
<line x1="297.695" y1="744.8284" x2="297.695" y2="752.0563999999999" stroke="#222" stroke-width="1.0" />
<line x1="294.395" y1="744.8284" x2="300.995" y2="744.8284" stroke="#222" stroke-width="1.0" />
<line x1="294.395" y1="752.0563999999999" x2="300.995" y2="752.0563999999999" stroke="#222" stroke-width="1.0" />
<line x1="303.19" y1="726.3969999999999" x2="303.19" y2="746.6353999999999" stroke="#222" stroke-width="1.0" />
<line x1="299.89" y1="726.3969999999999" x2="306.49" y2="726.3969999999999" stroke="#222" stroke-width="1.0" />
<line x1="299.89" y1="746.6353999999999" x2="306.49" y2="746.6353999999999" stroke="#222" stroke-width="1.0" />
<line x1="314.18" y1="732.5408" x2="314.18" y2="748.4423999999999" stroke="#222" stroke-width="1.0" />
<line x1="310.88" y1="732.5408" x2="317.48" y2="732.5408" stroke="#222" stroke-width="1.0" />
<line x1="310.88" y1="748.4423999999999" x2="317.48" y2="748.4423999999999" stroke="#222" stroke-width="1.0" />
<line x1="336.15999999999997" y1="738.3232" x2="336.15999999999997" y2="749.8879999999999" stroke="#222" stroke-width="1.0" />
<line x1="332.85999999999996" y1="738.3232" x2="339.46" y2="738.3232" stroke="#222" stroke-width="1.0" />
<line x1="332.85999999999996" y1="749.8879999999999" x2="339.46" y2="749.8879999999999" stroke="#222" stroke-width="1.0" />
<line x1="402.1" y1="740.4916" x2="402.1" y2="752.0563999999999" stroke="#222" stroke-width="1.0" />
<line x1="398.8" y1="740.4916" x2="405.40000000000003" y2="740.4916" stroke="#222" stroke-width="1.0" />
<line x1="398.8" y1="752.0563999999999" x2="405.40000000000003" y2="752.0563999999999" stroke="#222" stroke-width="1.0" />
<line x1="512.0" y1="756.3932" x2="512.0" y2="763.6211999999999" stroke="#222" stroke-width="1.0" />
<line x1="508.7" y1="756.3932" x2="515.3" y2="756.3932" stroke="#222" stroke-width="1.0" />
<line x1="508.7" y1="763.6211999999999" x2="515.3" y2="763.6211999999999" stroke="#222" stroke-width="1.0" />
<line x1="292.2" y1="736.8776" x2="292.2" y2="748.4423999999999" stroke="#222" stroke-width="1.0" />
<line x1="288.9" y1="736.8776" x2="295.5" y2="736.8776" stroke="#222" stroke-width="1.0" />
<line x1="288.9" y1="748.4423999999999" x2="295.5" y2="748.4423999999999" stroke="#222" stroke-width="1.0" />
<line x1="297.695" y1="704.3516" x2="297.695" y2="718.8076" stroke="#222" stroke-width="1.0" />
<line x1="294.395" y1="704.3516" x2="300.995" y2="704.3516" stroke="#222" stroke-width="1.0" />
<line x1="294.395" y1="718.8076" x2="300.995" y2="718.8076" stroke="#222" stroke-width="1.0" />
<line x1="303.19" y1="684.836" x2="303.19" y2="699.2919999999999" stroke="#222" stroke-width="1.0" />
<line x1="299.89" y1="684.836" x2="306.49" y2="684.836" stroke="#222" stroke-width="1.0" />
<line x1="299.89" y1="699.2919999999999" x2="306.49" y2="699.2919999999999" stroke="#222" stroke-width="1.0" />
<line x1="314.18" y1="697.1236" x2="314.18" y2="714.4707999999999" stroke="#222" stroke-width="1.0" />
<line x1="310.88" y1="697.1236" x2="317.48" y2="697.1236" stroke="#222" stroke-width="1.0" />
<line x1="310.88" y1="714.4707999999999" x2="317.48" y2="714.4707999999999" stroke="#222" stroke-width="1.0" />
<line x1="336.15999999999997" y1="715.9164" x2="336.15999999999997" y2="730.3724" stroke="#222" stroke-width="1.0" />
<line x1="332.85999999999996" y1="715.9164" x2="339.46" y2="715.9164" stroke="#222" stroke-width="1.0" />
<line x1="332.85999999999996" y1="730.3724" x2="339.46" y2="730.3724" stroke="#222" stroke-width="1.0" />
<line x1="402.1" y1="737.6003999999999" x2="402.1" y2="744.8284" stroke="#222" stroke-width="1.0" />
<line x1="398.8" y1="737.6003999999999" x2="405.40000000000003" y2="737.6003999999999" stroke="#222" stroke-width="1.0" />
<line x1="398.8" y1="744.8284" x2="405.40000000000003" y2="744.8284" stroke="#222" stroke-width="1.0" />
<line x1="512.0" y1="742.66" x2="512.0" y2="749.8879999999999" stroke="#222" stroke-width="1.0" />
<line x1="508.7" y1="742.66" x2="515.3" y2="742.66" stroke="#222" stroke-width="1.0" />
<line x1="508.7" y1="749.8879999999999" x2="515.3" y2="749.8879999999999" stroke="#222" stroke-width="1.0" />
<line x1="292.2" y1="732.5408" x2="292.2" y2="744.1056" stroke="#222" stroke-width="1.0" />
<line x1="288.9" y1="732.5408" x2="295.5" y2="732.5408" stroke="#222" stroke-width="1.0" />
<line x1="288.9" y1="744.1056" x2="295.5" y2="744.1056" stroke="#222" stroke-width="1.0" />
<line x1="297.695" y1="686.2816" x2="297.695" y2="703.6288" stroke="#222" stroke-width="1.0" />
<line x1="294.395" y1="686.2816" x2="300.995" y2="686.2816" stroke="#222" stroke-width="1.0" />
<line x1="294.395" y1="703.6288" x2="300.995" y2="703.6288" stroke="#222" stroke-width="1.0" />
<line x1="303.19" y1="630.626" x2="303.19" y2="666.766" stroke="#222" stroke-width="1.0" />
<line x1="299.89" y1="630.626" x2="306.49" y2="630.626" stroke="#222" stroke-width="1.0" />
<line x1="299.89" y1="666.766" x2="306.49" y2="666.766" stroke="#222" stroke-width="1.0" />
<line x1="314.18" y1="685.5588" x2="314.18" y2="695.678" stroke="#222" stroke-width="1.0" />
<line x1="310.88" y1="685.5588" x2="317.48" y2="685.5588" stroke="#222" stroke-width="1.0" />
<line x1="310.88" y1="695.678" x2="317.48" y2="695.678" stroke="#222" stroke-width="1.0" />
<line x1="336.15999999999997" y1="714.4707999999999" x2="336.15999999999997" y2="730.3724" stroke="#222" stroke-width="1.0" />
<line x1="332.85999999999996" y1="714.4707999999999" x2="339.46" y2="714.4707999999999" stroke="#222" stroke-width="1.0" />
<line x1="332.85999999999996" y1="730.3724" x2="339.46" y2="730.3724" stroke="#222" stroke-width="1.0" />
<line x1="402.1" y1="734.3478" x2="402.1" y2="741.5758" stroke="#222" stroke-width="1.0" />
<line x1="398.8" y1="734.3478" x2="405.40000000000003" y2="734.3478" stroke="#222" stroke-width="1.0" />
<line x1="398.8" y1="741.5758" x2="405.40000000000003" y2="741.5758" stroke="#222" stroke-width="1.0" />
<line x1="512.0" y1="742.66" x2="512.0" y2="751.3335999999999" stroke="#222" stroke-width="1.0" />
<line x1="508.7" y1="742.66" x2="515.3" y2="742.66" stroke="#222" stroke-width="1.0" />
<line x1="508.7" y1="751.3335999999999" x2="515.3" y2="751.3335999999999" stroke="#222" stroke-width="1.0" />
<rect x="289.9" y="743.97" width="4.6" height="4.6" fill="#fff" stroke="#000" stroke-width="1.2"/>
<rect x="295.39" y="748.31" width="4.6" height="4.6" fill="#fff" stroke="#000" stroke-width="1.2"/>
<rect x="300.89" y="747.23" width="4.6" height="4.6" fill="#fff" stroke="#000" stroke-width="1.2"/>
<rect x="311.88" y="747.23" width="4.6" height="4.6" fill="#fff" stroke="#000" stroke-width="1.2"/>
<rect x="333.86" y="749.76" width="4.6" height="4.6" fill="#fff" stroke="#000" stroke-width="1.2"/>
<rect x="399.8" y="756.98" width="4.6" height="4.6" fill="#fff" stroke="#000" stroke-width="1.2"/>
<rect x="509.7" y="761.32" width="4.6" height="4.6" fill="#fff" stroke="#000" stroke-width="1.2"/>
<circle cx="292.20" cy="741.21" r="2.5" fill="#000"/>
<circle cx="297.69" cy="748.44" r="2.5" fill="#000"/>
<circle cx="303.19" cy="736.52" r="2.5" fill="#000"/>
<circle cx="314.18" cy="740.49" r="2.5" fill="#000"/>
<circle cx="336.16" cy="744.11" r="2.5" fill="#000"/>
<circle cx="402.10" cy="746.27" r="2.5" fill="#000"/>
<circle cx="512.00" cy="760.01" r="2.5" fill="#000"/>
<rect x="289.9" y="740.36" width="4.6" height="4.6" fill="#fff" stroke="#000" stroke-width="1.2"/>
<rect x="295.39" y="709.28" width="4.6" height="4.6" fill="#fff" stroke="#000" stroke-width="1.2"/>
<rect x="300.89" y="689.76" width="4.6" height="4.6" fill="#fff" stroke="#000" stroke-width="1.2"/>
<rect x="311.88" y="703.5" width="4.6" height="4.6" fill="#fff" stroke="#000" stroke-width="1.2"/>
<rect x="333.86" y="720.84" width="4.6" height="4.6" fill="#fff" stroke="#000" stroke-width="1.2"/>
<rect x="399.8" y="738.91" width="4.6" height="4.6" fill="#fff" stroke="#000" stroke-width="1.2"/>
<rect x="509.7" y="743.97" width="4.6" height="4.6" fill="#fff" stroke="#000" stroke-width="1.2"/>
<circle cx="292.20" cy="738.32" r="2.5" fill="#000"/>
<circle cx="297.69" cy="694.96" r="2.5" fill="#000"/>
<circle cx="303.19" cy="648.70" r="2.5" fill="#000"/>
<circle cx="314.18" cy="690.62" r="2.5" fill="#000"/>
<circle cx="336.16" cy="722.42" r="2.5" fill="#000"/>
<circle cx="402.10" cy="737.96" r="2.5" fill="#000"/>
<circle cx="512.00" cy="747.00" r="2.5" fill="#000"/>
<line x1="411" y1="628.8" x2="438.5" y2="628.8" stroke="#000" stroke-width="1" stroke-dasharray="2.5,2"/>
<rect x="423" y="626.8" width="4" height="4" fill="#fff" stroke="#000" stroke-width="1"/>
<text x="442.3" y="632.0" font-size="9.2" font-weight="bold" text-anchor="start" fill="#000" textLength="47" lengthAdjust="spacingAndGlyphs" >WT - MIP-2</text>
<line x1="411" y1="640.8" x2="438.5" y2="640.8" stroke="#000" stroke-width="1"/>
<rect x="423" y="638.8" width="4" height="4" fill="#fff" stroke="#000" stroke-width="1"/>
<text x="442.3" y="644.0" font-size="9.2" font-weight="bold" text-anchor="start" fill="#000" textLength="47" lengthAdjust="spacingAndGlyphs" >WT +MIP-2</text>
<line x1="411" y1="652.8" x2="438.5" y2="652.8" stroke="#000" stroke-width="1" stroke-dasharray="2.5,2"/>
<circle cx="425" cy="652.8" r="1.8" fill="#000"/>
<text x="442.3" y="656.0" font-size="9.2" font-weight="bold" text-anchor="start" fill="#000" textLength="47" lengthAdjust="spacingAndGlyphs" >KO - MIP-2</text>
<line x1="411" y1="664.8" x2="438.5" y2="664.8" stroke="#000" stroke-width="1"/>
<circle cx="425" cy="664.8" r="1.8" fill="#000"/>
<text x="442.3" y="668.0" font-size="9.2" font-weight="bold" text-anchor="start" fill="#000" textLength="47" lengthAdjust="spacingAndGlyphs" >KO +MIP-2</text>
</svg>
</body></html>
